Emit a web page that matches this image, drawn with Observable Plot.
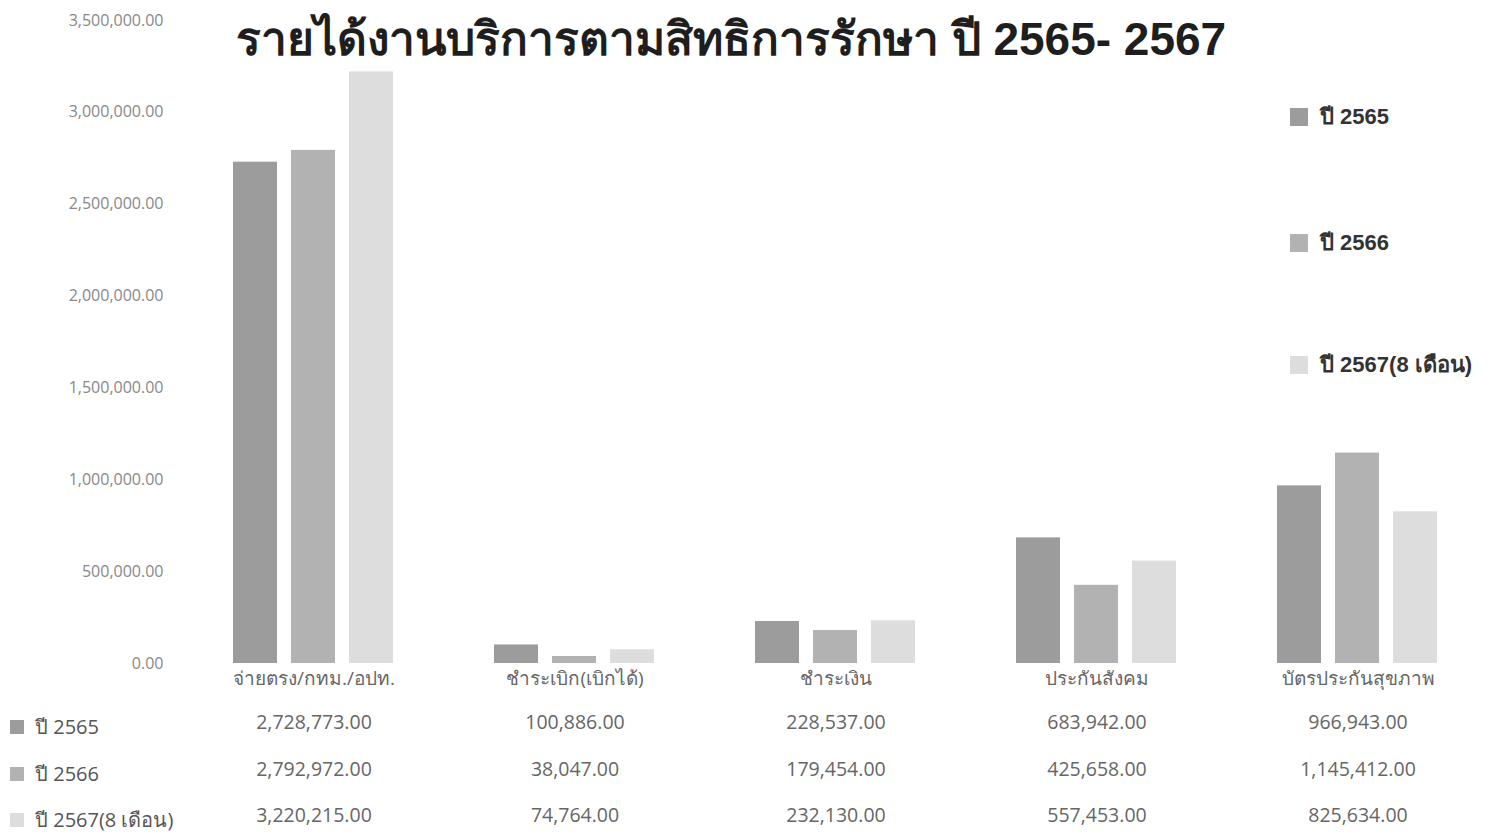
<!DOCTYPE html>
<html><head><meta charset="utf-8">
<script src="https://cdn.jsdelivr.net/npm/d3@7"></script>
<script src="https://cdn.jsdelivr.net/npm/@observablehq/plot@0.6"></script>
<style>
html,body{margin:0;padding:0;background:#fff;}
#wrap{position:relative;width:1495px;height:838px;overflow:hidden;font-family:"Liberation Sans","Noto Sans",sans-serif;}
#title{position:absolute;left:0;width:1462px;top:2px;text-align:center;font-size:46px;font-weight:bold;color:#1e1e1e;}
.leg{position:absolute;font-size:22px;font-weight:bold;color:#333;display:flex;align-items:center;}
.leg span.sw{display:inline-block;width:18px;height:18px;margin-right:12px;}
.row{position:absolute;left:10px;font-size:20px;color:#555;display:flex;align-items:center;font-family:"Open Sans","Noto Sans",sans-serif;}
.row span.sw{display:inline-block;width:14px;height:14px;margin-right:11px;}
#chart{position:absolute;left:0;top:0;}
</style></head>
<body><div id="wrap"><div id="chart"></div><div id="title"></div></div>
<script>
const titleText = "รายได้งานบริการตามสิทธิการรักษา ปี 2565- 2567";
const categories = ["จ่ายตรง/กทม./อปท.", "ชำระเบิก(เบิกได้)", "ชำระเงิน", "ประกันสังคม", "บัตรประกันสุขภาพ"];
const series = ["ปี 2565", "ปี 2566", "ปี 2567(8 เดือน)"];
const v2565 = [2728773, 100886, 228537, 683942, 966943];
const v2566 = [2792972, 38047, 179454, 425658, 1145412];
const v2567 = [3220215, 74764, 232130, 557453, 825634];
const yTicks = [0, 500000, 1000000, 1500000, 2000000, 2500000, 3000000, 3500000];
const colors = ["#9c9c9c", "#b2b2b2", "#dddddd"];

const seriesValues = [v2565, v2566, v2567];
const data = [];
series.forEach((s, si) => categories.forEach((c, ci) => data.push({category: c, series: s, si, value: seriesValues[si][ci]})));

const fmt = d3.format(",.2f");
const rowDy = [59, 106, 152];

const chart = Plot.plot({
  width: 1495,
  height: 838,
  marginTop: 20,
  marginBottom: 175,
  marginLeft: 183,
  marginRight: 7,
  style: {fontFamily: "'Open Sans','Noto Sans',sans-serif", background: "transparent"},
  fx: {domain: categories, padding: 0, axis: "bottom", label: null, tickSize: 0, tickPadding: 8},
  x: {domain: series, axis: null, paddingInner: 0.24, paddingOuter: 0.87},
  y: {domain: [0, 3500000], ticks: yTicks, tickFormat: fmt, tickSize: 0, tickPadding: 20, label: null},
  color: {domain: series, range: colors},
  marks: [
    Plot.barY(data, {fx: "category", x: "series", y: "value", fill: "series"}),
    ...seriesValues.map((vals, si) => Plot.text(categories.map((c, ci) => ({category: c, value: vals[ci]})), {
      fx: "category", text: d => fmt(d.value), frameAnchor: "bottom", lineAnchor: "middle",
      dy: rowDy[si], fontSize: 19.5, fill: "#666"
    }))
  ]
});
const fxg = chart.querySelector('[aria-label="fx-axis tick label"]');
if (fxg) {fxg.setAttribute("font-size", "19"); fxg.setAttribute("fill", "#666");}
const yg = chart.querySelector('[aria-label="y-axis tick label"]');
if (yg) {yg.setAttribute("font-size", "16"); yg.setAttribute("fill", "#888");}
document.getElementById("chart").appendChild(chart);
document.getElementById("title").textContent = titleText;

const wrap = document.getElementById("wrap");
const legTops = [99, 225, 347];
series.forEach((s, i) => {
  const d = document.createElement("div");
  d.className = "leg";
  d.style.left = "1290px"; d.style.top = legTops[i] + "px";
  d.innerHTML = `<span class="sw" style="background:${colors[i]}"></span>`;
  d.appendChild(document.createTextNode(s));
  wrap.appendChild(d);
});
const rowTops = [711, 758, 804];
series.forEach((s, i) => {
  const d = document.createElement("div");
  d.className = "row";
  d.style.top = rowTops[i] + "px";
  d.innerHTML = `<span class="sw" style="background:${colors[i]}"></span>`;
  d.appendChild(document.createTextNode(s));
  wrap.appendChild(d);
});
</script></body></html>
